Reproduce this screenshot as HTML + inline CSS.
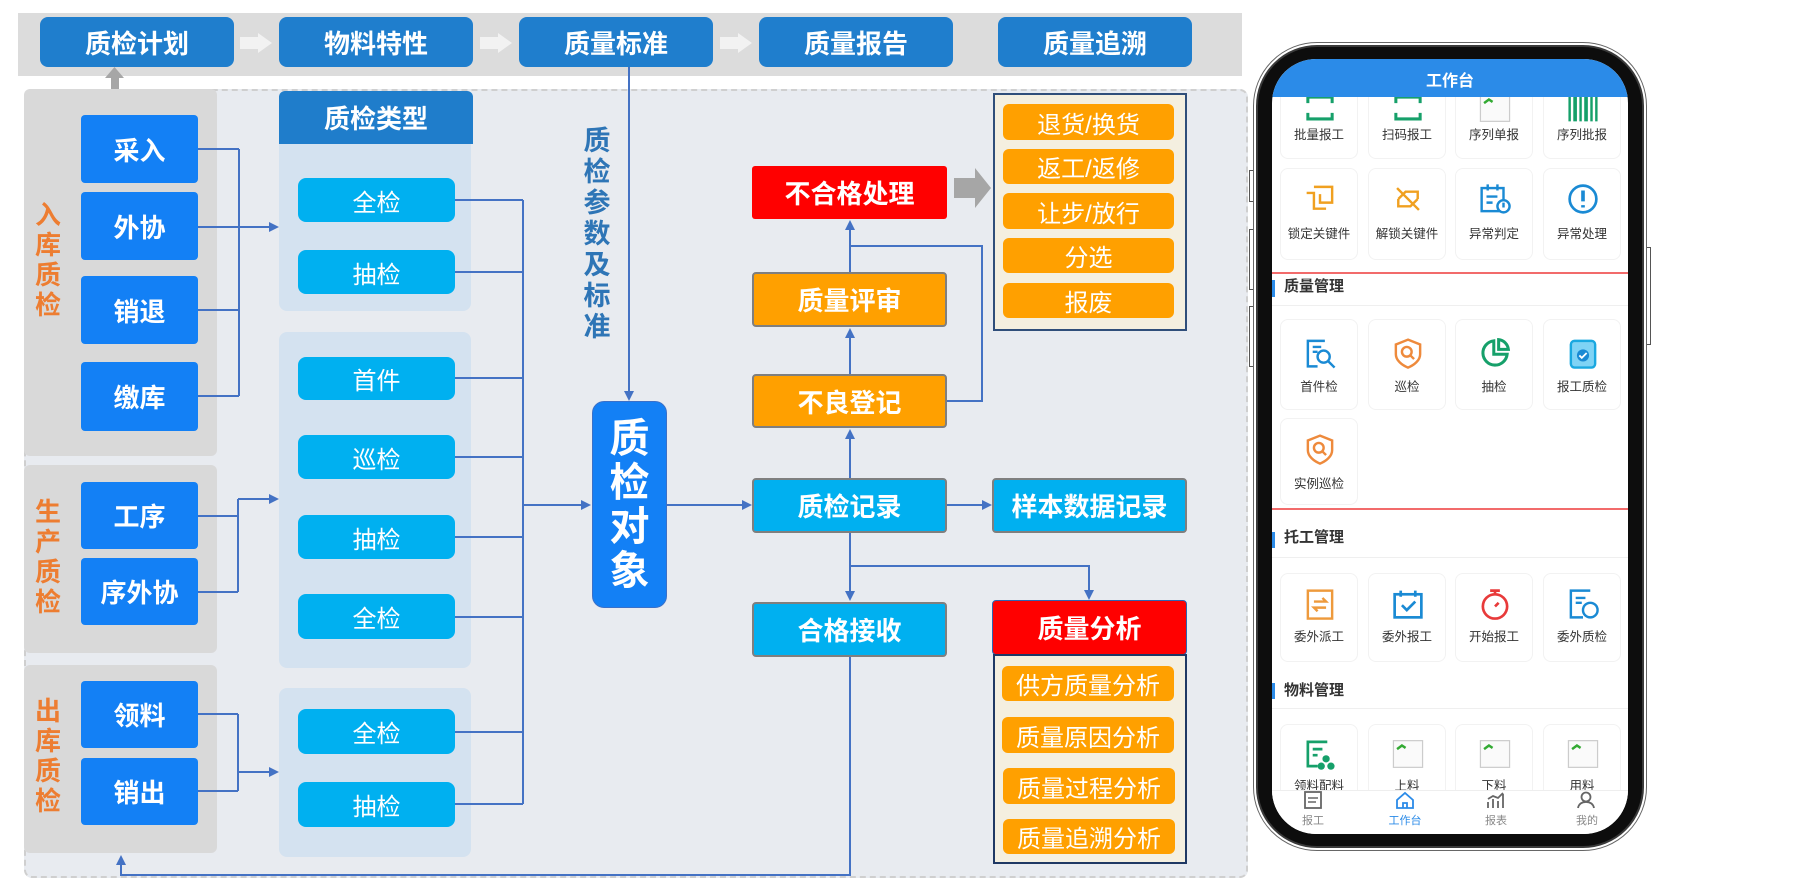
<!DOCTYPE html>
<html><head><meta charset="utf-8">
<style>
*{margin:0;padding:0;box-sizing:border-box}
body{width:1805px;height:892px;background:#fff;position:relative;overflow:hidden;font-family:"Liberation Sans","Noto Sans CJK SC",sans-serif}
.a{position:absolute}
.c{display:flex;align-items:center;justify-content:center;color:#fff;white-space:nowrap}
.top{top:17px;width:194px;height:50px;background:#1f7ecd;border-radius:8px;font-size:26px;font-weight:bold}
.lp{left:24px;width:193px;background:#d9d9d9;border-radius:6px}
.lb{left:81px;width:117px;background:#1380f5;border-radius:4px;font-size:26px;font-weight:bold}
.vt{left:30px;width:36px;text-align:center;font-size:26px;line-height:30px;font-weight:bold;color:#ed7d31}
.mp{left:279px;width:192px;background:#d4e2f0}
.cy{left:298px;width:157px;background:#00b0f0;border-radius:8px;font-size:24px}
.rb{left:752px;width:195px;border:2px solid #7f7f7f;border-radius:4px;font-size:26px;font-weight:bold}
.or{background:#ffa000}
.cb{background:#00b0f0}
.oi{background:#ffa000;border-radius:6px;font-size:24px}
.cell{position:absolute;width:78px;border:1px solid #f2f2f2;border-radius:8px;background:#fff}
.cell svg{position:absolute;left:22px;width:34px;height:34px;margin-top:-3px}
.cell span{position:absolute;left:0;width:100%;text-align:center;font-size:12.5px;line-height:16px;color:#333;white-space:nowrap}
.hd{position:absolute;left:12px;font-size:15px;font-weight:bold;color:#333;line-height:18px}
.bar{position:absolute;left:0;width:3px;background:#2b8be8}
.sep{position:absolute;left:0;width:356px;height:1px;background:#efefef}
.red{position:absolute;left:0;width:356px;height:2px;background:#f26b6b}
.tab{position:absolute;top:731px;width:60px;text-align:center}
.tab span{display:block;font-size:11px;color:#888;line-height:12px}
</style></head><body>

<!-- top bar -->
<div class="a" style="left:18px;top:13px;width:1224px;height:63px;background:#dcdcdc"></div>
<div class="a c top" style="left:40px">质检计划</div>
<div class="a c top" style="left:279px">物料特性</div>
<div class="a c top" style="left:519px">质量标准</div>
<div class="a c top" style="left:759px">质量报告</div>
<div class="a c top" style="left:998px">质量追溯</div>
<svg class="a" style="left:0;top:0" width="1805" height="100">
<g fill="#f2f2f2">
<polygon points="240,37 258,37 258,33 272,43 258,53 258,49 240,49"/>
<polygon points="480,37 498,37 498,33 512,43 498,53 498,49 480,49"/>
<polygon points="720,37 738,37 738,33 752,43 738,53 738,49 720,49"/>
</g>
</svg>

<!-- main panel -->
<div class="a" style="left:24px;top:89px;width:1224px;height:789px;background:#e8ebf0;border:2px dashed #cfcfcf;border-radius:8px"></div>
<svg class="a" style="left:0;top:0" width="200" height="100"><g fill="#a6a6a6"><polygon points="105,78 124,78 114.5,67"/><rect x="111" y="78" width="8" height="14"/></g></svg>

<!-- left panels -->
<div class="a lp" style="top:89px;height:367px"></div>
<div class="a lp" style="top:465px;height:188px"></div>
<div class="a lp" style="top:665px;height:188px"></div>
<div class="a vt" style="top:200px">入<br>库<br>质<br>检</div>
<div class="a vt" style="top:497px">生<br>产<br>质<br>检</div>
<div class="a vt" style="top:696px">出<br>库<br>质<br>检</div>

<!-- middle panels -->
<div class="a c" style="left:279px;top:91px;width:194px;height:53px;background:#1f7dcb;border-radius:6px 6px 0 0;font-size:26px;font-weight:bold">质检类型</div>
<div class="a mp" style="top:144px;height:167px;border-radius:0 0 8px 8px"></div>
<div class="a mp" style="top:332px;height:336px;border-radius:8px"></div>
<div class="a mp" style="top:688px;height:169px;border-radius:8px"></div>

<div class="a" style="left:582px;top:126px;width:30px;text-align:center;font-size:27px;line-height:31px;font-weight:bold;color:#2e75b6">质<br>检<br>参<br>数<br>及<br>标<br>准</div>

<!-- connectors -->
<svg class="a" style="left:0;top:0" width="1805" height="892">
<g stroke="#4472c4" stroke-width="2" fill="none">
<path d="M198 149H239M198 227H270M198 310H239M198 396H239M239 149V396"/>
<path d="M198 516H238M198 592H238M238 499V592M238 499H270"/>
<path d="M198 714H238M198 791H238M238 714V791M238 772H270"/>
<path d="M455 200H523M455 272H523M455 378H523M455 457H523M455 537H523M455 617H523M455 732H523M455 804H523M523 200V804M523 505H582"/>
<path d="M629 67V392"/>
<path d="M667 505H743"/>
<path d="M947 505H983"/>
<path d="M850 478V438M850 374V337M850 272V229"/>
<path d="M947 401H982V246H850"/>
<path d="M850 533V592M850 566H1089V591"/>
<path d="M850 657V875H121V864"/>
</g>
<g fill="#4472c4">
<polygon points="279,227 269,222 269,232"/>
<polygon points="279,499 269,494 269,504"/>
<polygon points="279,772 269,767 269,777"/>
<polygon points="591,505 581,500 581,510"/>
<polygon points="629,401 624,391 634,391"/>
<polygon points="752,505 742,500 742,510"/>
<polygon points="992,505 982,500 982,510"/>
<polygon points="850,429 845,439 855,439"/>
<polygon points="850,328 845,338 855,338"/>
<polygon points="850,220 845,230 855,230"/>
<polygon points="850,601 845,591 855,591"/>
<polygon points="1089,600 1084,590 1094,590"/>
<polygon points="121,855 116,865 126,865"/>
</g>
<g fill="#a6a6a6"><polygon points="954,178 975,178 975,168 991,188 975,208 975,198 954,198"/></g>
</svg>

<!-- left boxes -->
<div class="a c lb" style="top:115px;height:68px">采入</div>
<div class="a c lb" style="top:192px;height:68px">外协</div>
<div class="a c lb" style="top:276px;height:68px">销退</div>
<div class="a c lb" style="top:362px;height:69px">缴库</div>
<div class="a c lb" style="top:482px;height:67px">工序</div>
<div class="a c lb" style="top:558px;height:67px">序外协</div>
<div class="a c lb" style="top:681px;height:67px">领料</div>
<div class="a c lb" style="top:758px;height:67px">销出</div>

<!-- cyan -->
<div class="a c cy" style="top:178px;height:44px">全检</div>
<div class="a c cy" style="top:250px;height:44px">抽检</div>
<div class="a c cy" style="top:357px;height:43px">首件</div>
<div class="a c cy" style="top:435px;height:44px">巡检</div>
<div class="a c cy" style="top:515px;height:44px">抽检</div>
<div class="a c cy" style="top:594px;height:45px">全检</div>
<div class="a c cy" style="top:709px;height:45px">全检</div>
<div class="a c cy" style="top:782px;height:45px">抽检</div>

<!-- 质检对象 -->
<div class="a" style="left:592px;top:401px;width:75px;height:207px;background:#1380f5;border:1px solid #3a70c8;border-radius:12px;color:#fff;font-size:40px;font-weight:bold;line-height:44px;text-align:center;padding-top:15px">质<br>检<br>对<br>象</div>

<!-- right column -->
<div class="a c" style="left:752px;top:166px;width:195px;height:53px;background:#ff0000;border-radius:3px;font-size:26px;font-weight:bold">不合格处理</div>
<div class="a" style="left:993px;top:93px;width:194px;height:238px;background:#f4efe0;border:2px solid #2f4e7a"></div>
<div class="a c oi" style="left:1003px;top:104px;width:171px;height:36px">退货/换货</div>
<div class="a c oi" style="left:1003px;top:149px;width:171px;height:35px">返工/返修</div>
<div class="a c oi" style="left:1003px;top:193px;width:171px;height:36px">让步/放行</div>
<div class="a c oi" style="left:1003px;top:238px;width:171px;height:35px">分选</div>
<div class="a c oi" style="left:1003px;top:283px;width:171px;height:35px">报废</div>

<div class="a c rb or" style="top:272px;height:55px">质量评审</div>
<div class="a c rb or" style="top:374px;height:54px">不良登记</div>
<div class="a c rb cb" style="top:478px;height:55px">质检记录</div>
<div class="a c rb cb" style="top:602px;height:55px">合格接收</div>
<div class="a c rb cb" style="left:992px;top:478px;height:55px">样本数据记录</div>
<div class="a c" style="left:992px;top:600px;width:195px;height:55px;background:#ff0000;border:1.5px solid #2e64b0;border-radius:4px;font-size:26px;font-weight:bold">质量分析</div>
<div class="a" style="left:993px;top:654px;width:194px;height:210px;background:#f4efe0;border:2px solid #1f3864"></div>
<div class="a c oi" style="left:1002px;top:666px;width:172px;height:35px">供方质量分析</div>
<div class="a c oi" style="left:1002px;top:717px;width:172px;height:36px">质量原因分析</div>
<div class="a c oi" style="left:1003px;top:768px;width:172px;height:36px">质量过程分析</div>
<div class="a c oi" style="left:1003px;top:819px;width:172px;height:35px">质量追溯分析</div>

<!-- phone -->
<div class="a" style="left:1249px;top:170px;width:5px;height:32px;border:1px solid #555;background:#fff"></div>
<div class="a" style="left:1249px;top:229px;width:5px;height:61px;border:1px solid #555;background:#fff"></div>
<div class="a" style="left:1249px;top:306px;width:5px;height:61px;border:1px solid #555;background:#fff"></div>
<div class="a" style="left:1646px;top:247px;width:5px;height:98px;border:1px solid #555;background:#fff"></div>
<div class="a" style="left:1253px;top:42px;width:394px;height:809px;border:1.5px solid #666;border-radius:64px;background:#fff"></div>
<div class="a" style="left:1256px;top:45px;width:388px;height:803px;border-radius:61px;background:#0d0d0d;border:2px solid #3a3a3a"></div>
<div class="a" style="left:1272px;top:59px;width:356px;height:775px;border-radius:44px;background:#fff;overflow:hidden">
  <!-- rows -->
  <div class="cell" style="left:8px;top:11px;height:89px"><svg viewBox="0 0 28 28" style="top:23px"><path d="M4 10V5H24V10M4 18V23H24V18" stroke="#16a06a" stroke-width="2.5" fill="none"/></svg><span style="top:56px">批量报工</span></div>
  <div class="cell" style="left:96px;top:11px;height:89px"><svg viewBox="0 0 28 28" style="top:23px"><path d="M4 10V5H24V10M4 18V23H24V18" stroke="#16a06a" stroke-width="2.5" fill="none"/></svg><span style="top:56px">扫码报工</span></div>
  <div class="cell" style="left:183px;top:11px;height:89px"><svg viewBox="0 0 28 28" style="top:23px"><rect x="2" y="3" width="24" height="22" fill="#fafafa" stroke="#ccc"/><path d="M5 10l4-3 3 2" stroke="#3a3" stroke-width="2" fill="none"/></svg><span style="top:56px">序列单报</span></div>
  <div class="cell" style="left:271px;top:11px;height:89px"><svg viewBox="0 0 28 28" style="top:23px"><g fill="#16a06a"><rect x="2" y="3" width="2" height="22"/><rect x="6" y="3" width="3" height="22"/><rect x="11" y="3" width="2" height="22"/><rect x="15" y="3" width="3" height="22"/><rect x="20" y="3" width="2" height="22"/><rect x="24" y="3" width="2" height="22"/></g></svg><span style="top:56px">序列批报</span></div>

  <div class="cell" style="left:8px;top:109px;height:92px"><svg viewBox="0 0 28 28" style="top:16px"><g stroke="#f0a020" stroke-width="2" fill="none"><path d="M3 9H9V22H19"/><path d="M9 4H24V17H14V10"/></g></svg><span style="top:57px">锁定关键件</span></div>
  <div class="cell" style="left:96px;top:109px;height:92px"><svg viewBox="0 0 28 28" style="top:16px"><g stroke="#f0a020" stroke-width="2" fill="none"><path d="M6 14L12 8H22V14M22 14L16 20H6V14M5 5L23 23"/></g></svg><span style="top:57px">解锁关键件</span></div>
  <div class="cell" style="left:183px;top:109px;height:92px"><svg viewBox="0 0 28 28" style="top:16px"><g stroke="#1a8ad4" stroke-width="2" fill="none"><rect x="3" y="5" width="18" height="19"/><path d="M8 2V7M16 2V7M7 12H16M7 17H12"/><circle cx="21" cy="20" r="5" fill="#fff"/></g><path d="M21 17V21" stroke="#1a8ad4" stroke-width="2"/></svg><span style="top:57px">异常判定</span></div>
  <div class="cell" style="left:271px;top:109px;height:92px"><svg viewBox="0 0 28 28" style="top:16px"><circle cx="14" cy="14" r="11" stroke="#1a8ad4" stroke-width="2.2" fill="none"/><path d="M14 7V16M14 19V21" stroke="#1a8ad4" stroke-width="3"/></svg><span style="top:57px">异常处理</span></div>

  <div class="red" style="top:213px"></div>
  <div class="bar" style="top:221px;height:17px"></div>
  <div class="hd" style="top:219px">质量管理</div>
  <div class="sep" style="top:246px"></div>

  <div class="cell" style="left:8px;top:260px;height:91px"><svg viewBox="0 0 28 28" style="top:19px"><g stroke="#1a8ad4" stroke-width="2" fill="none"><path d="M18 4H4V25H12"/><path d="M8 9H15M8 13H12"/><circle cx="17" cy="17" r="5"/><path d="M21 21L26 26"/></g></svg><span style="top:59px">首件检</span></div>
  <div class="cell" style="left:96px;top:260px;height:91px"><svg viewBox="0 0 28 28" style="top:19px"><g stroke="#ee8a3c" stroke-width="2" fill="none"><path d="M14 3L24 7V15C24 20 19 24 14 26C9 24 4 20 4 15V7Z"/><circle cx="13" cy="13" r="4"/><path d="M16 16L19 19"/></g></svg><span style="top:59px">巡检</span></div>
  <div class="cell" style="left:183px;top:260px;height:91px"><svg viewBox="0 0 28 28" style="top:19px"><g stroke="#16a06a" stroke-width="2.5" fill="none"><path d="M13 4A10 10 0 1 0 24 15H13Z"/><path d="M17 3A9 9 0 0 1 25 11H17Z"/></g></svg><span style="top:59px">抽检</span></div>
  <div class="cell" style="left:271px;top:260px;height:91px"><svg viewBox="0 0 28 28" style="top:19px"><rect x="4" y="4" width="20" height="22" rx="3" fill="#7fd3f5" stroke="#1aa8e0" stroke-width="2"/><circle cx="14" cy="16" r="5" fill="#1a8ad4"/><path d="M11 16l2 2 4-4" stroke="#fff" stroke-width="1.5" fill="none"/></svg><span style="top:59px">报工质检</span></div>

  <div class="cell" style="left:8px;top:359px;height:87px"><svg viewBox="0 0 28 28" style="top:16px"><g stroke="#ee8a3c" stroke-width="2" fill="none"><path d="M14 3L24 7V15C24 20 19 24 14 26C9 24 4 20 4 15V7Z"/><circle cx="13" cy="13" r="4"/><path d="M16 16L19 19"/></g></svg><span style="top:57px">实例巡检</span></div>

  <div class="red" style="top:449px"></div>
  <div class="bar" style="top:473px;height:16px"></div>
  <div class="hd" style="top:470px">托工管理</div>
  <div class="sep" style="top:498px"></div>

  <div class="cell" style="left:8px;top:514px;height:89px"><svg viewBox="0 0 28 28" style="top:16px"><g stroke="#ee9a3c" stroke-width="2" fill="none"><rect x="4" y="3" width="20" height="23"/><path d="M9 12H19L16 9M19 17H9L12 20"/></g></svg><span style="top:55px">委外派工</span></div>
  <div class="cell" style="left:96px;top:514px;height:89px"><svg viewBox="0 0 28 28" style="top:16px"><g stroke="#1a8ad4" stroke-width="2.2" fill="none"><rect x="3" y="6" width="22" height="19"/><path d="M8 3V8M20 3V8M9 15l4 4 7-7"/></g></svg><span style="top:55px">委外报工</span></div>
  <div class="cell" style="left:183px;top:514px;height:89px"><svg viewBox="0 0 28 28" style="top:16px"><g stroke="#e83a3a" stroke-width="2.2" fill="none"><circle cx="14" cy="16" r="10"/><path d="M10 3H18M14 3V6M14 16L17 13"/></g></svg><span style="top:55px">开始报工</span></div>
  <div class="cell" style="left:271px;top:514px;height:89px"><svg viewBox="0 0 28 28" style="top:16px"><g stroke="#1a8ad4" stroke-width="2" fill="none"><path d="M20 3H4V25H14"/><path d="M8 9H16M8 13H13"/><circle cx="20" cy="19" r="6" fill="#fff"/></g></svg><span style="top:55px">委外质检</span></div>

  <div class="bar" style="top:624px;height:16px"></div>
  <div class="hd" style="top:623px">物料管理</div>
  <div class="sep" style="top:649px"></div>

  <div class="cell" style="left:8px;top:665px;height:95px"><svg viewBox="0 0 28 28" style="top:15px"><g stroke="#16a06a" stroke-width="2.2" fill="none"><path d="M20 4H4V24H12M8 10H16M8 15H12"/></g><g fill="#16a06a"><circle cx="19" cy="18" r="3"/><circle cx="15" cy="24" r="3"/><circle cx="23" cy="24" r="3"/></g></svg><span style="top:53px">领料配料</span></div>
  <div class="cell" style="left:96px;top:665px;height:95px"><svg viewBox="0 0 28 28" style="top:15px"><rect x="2" y="3" width="24" height="22" fill="#fafafa" stroke="#ccc"/><path d="M5 10l4-3 3 2" stroke="#3a3" stroke-width="2" fill="none"/></svg><span style="top:53px">上料</span></div>
  <div class="cell" style="left:183px;top:665px;height:95px"><svg viewBox="0 0 28 28" style="top:15px"><rect x="2" y="3" width="24" height="22" fill="#fafafa" stroke="#ccc"/><path d="M5 10l4-3 3 2" stroke="#3a3" stroke-width="2" fill="none"/></svg><span style="top:53px">下料</span></div>
  <div class="cell" style="left:271px;top:665px;height:95px"><svg viewBox="0 0 28 28" style="top:15px"><rect x="2" y="3" width="24" height="22" fill="#fafafa" stroke="#ccc"/><path d="M5 10l4-3 3 2" stroke="#3a3" stroke-width="2" fill="none"/></svg><span style="top:53px">用料</span></div>

  <!-- tab bar -->
  <div class="a" style="left:0;top:731px;width:356px;height:44px;background:#fff;border-top:1px solid #eee"></div>
  <div class="tab" style="left:11px"><svg width="22" height="20"><rect x="3" y="2" width="16" height="16" stroke="#666" stroke-width="1.8" fill="none"/><path d="M6 8H16M6 12H14" stroke="#666" stroke-width="1.5"/></svg><span>报工</span></div>
  <div class="tab" style="left:103px"><svg width="22" height="20"><path d="M3 10L11 3L19 10V18H3Z M9 18V13H13V18" stroke="#2b8be8" stroke-width="1.8" fill="none"/></svg><span style="color:#2b8be8">工作台</span></div>
  <div class="tab" style="left:194px"><svg width="22" height="20"><path d="M3 18V12M8 18V9M13 18V11M18 18V4M3 9L8 6L13 8L18 3" stroke="#666" stroke-width="1.8" fill="none"/></svg><span>报表</span></div>
  <div class="tab" style="left:285px"><svg width="22" height="20"><circle cx="10" cy="7" r="4.5" stroke="#666" stroke-width="1.8" fill="none"/><path d="M2 18C3 13 7 12 10 12C13 12 17 13 18 18" stroke="#666" stroke-width="1.8" fill="none"/></svg><span>我的</span></div>

  <!-- header -->
  <div class="a c" style="left:0;top:0;width:356px;height:38px;background:#2b8be8;font-size:16px;font-weight:bold;padding-top:2px">工作台</div>
</div>

</body></html>
